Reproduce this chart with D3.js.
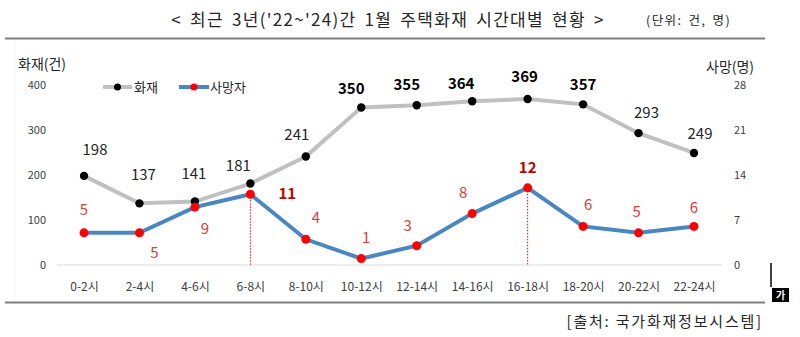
<!DOCTYPE html>
<html><head><meta charset="utf-8">
<script src="https://cdn.jsdelivr.net/npm/d3@7/dist/d3.min.js"></script>
<style>body{margin:0;background:#fff}svg{display:block}text{font-family:"Noto Sans CJK KR","Malgun Gothic",sans-serif}</style>
</head><body>
<svg id="c" width="800" height="337"></svg>
<script>
const categories = ["0-2시","2-4시","4-6시","6-8시","8-10시","10-12시","12-14시","14-16시","16-18시","18-20시","20-22시","22-24시"];
const fires = [198,137,141,181,241,350,355,364,369,357,293,249];
const deaths = [5,5,9,11,4,1,3,8,12,6,5,6];
const leftTicks = [0,100,200,300,400];
const rightTicks = [0,7,14,21,28];
const boldFires = [false,false,false,false,false,true,true,true,true,true,false,false];
const boldDeaths = [false,false,false,true,false,false,false,false,true,false,false,false];
const highlightDeaths = ["6-8시","16-18시"];
// label offsets (dx, dy relative to point, center)
const fireLabelOff = [[11,-26],[4,-29],[-1,-28],[-12,-18],[-9,-22],[-10,-19],[-10,-21],[-11,-18],[-3,-22],[0,-20],[8,-21],[6,-19]];
const deathLabelOff = [[0,-23],[15,20],[10,21],[37,-1],[10,-22],[5,-21],[-9,-20],[-9,-21],[0,-20],[5,-22],[-2,-21],[0,-19]];

const svg = d3.select("#c");
const x = d3.scalePoint().domain(categories).range([84,694]);
const yL = d3.scaleLinear().domain([0,400]).range([265,85]);
const yR = d3.scaleLinear().domain([0,28]).range([265,85]);

// title
svg.append("text").attr("x",388).attr("y",26).attr("text-anchor","middle")
  .attr("font-size",17).attr("letter-spacing",1.3).attr("word-spacing",3).attr("fill","#262626").text("< 최근 3년('22~'24)간 1월 주택화재 시간대별 현황 >");
svg.append("text").attr("x",646).attr("y",25).attr("font-size",12.5).attr("letter-spacing",1.4).attr("word-spacing",2).attr("fill","#262626").text("(단위: 건, 명)");
svg.append("line").attr("x1",5).attr("x2",765).attr("y1",38.5).attr("y2",38.5).attr("stroke","#7f7f7f").attr("stroke-width",2);
svg.append("line").attr("x1",5).attr("x2",765).attr("y1",302.5).attr("y2",302.5).attr("stroke","#7f7f7f").attr("stroke-width",2);
svg.append("line").attr("x1",15).attr("x2",15).attr("y1",40).attr("y2",301).attr("stroke","#f4f4f4").attr("stroke-width",1);

// axis titles
svg.append("text").attr("x",18).attr("y",69).attr("font-size",14).attr("fill","#262626").text("화재(건)");
svg.append("text").attr("x",706).attr("y",72).attr("font-size",14).attr("fill","#262626").text("사망(명)");

// baseline
svg.append("line").attr("x1",57).attr("x2",722).attr("y1",yL(0)).attr("y2",yL(0)).attr("stroke","#d9d9d9").attr("stroke-width",1);

// axes
const gl = svg.append("g").attr("transform","translate(46,0)")
  .call(d3.axisLeft(yL).tickValues(leftTicks).tickSize(0).tickPadding(0));
gl.select(".domain").remove();
gl.selectAll("text").attr("font-size",11).attr("fill","#404040").style("font-family","'Noto Sans CJK KR',sans-serif");
const gr = svg.append("g").attr("transform","translate(734,0)")
  .call(d3.axisRight(yR).tickValues(rightTicks).tickSize(0).tickPadding(0));
gr.select(".domain").remove();
gr.selectAll("text").attr("font-size",11).attr("fill","#404040").style("font-family","'Noto Sans CJK KR',sans-serif");
const gx = svg.append("g").attr("transform","translate(0,281)")
  .call(d3.axisBottom(x).tickSize(0).tickPadding(0));
gx.select(".domain").remove();
gx.selectAll("text").attr("font-size",12).attr("fill","#404040").attr("dy","0.8em").style("font-family","'Noto Sans CJK KR',sans-serif");

// dotted vertical lines
categories.forEach((c,i)=>{
  if(highlightDeaths.includes(c)){
    svg.append("line").attr("x1",x(c)).attr("x2",x(c)).attr("y1",yR(deaths[i])).attr("y2",yL(0))
      .attr("stroke","#ff0000").attr("stroke-width",1).attr("stroke-dasharray","1.5,1.5");
  }
});

// fire line
svg.append("path").datum(fires).attr("fill","none").attr("stroke","#c0c0c0").attr("stroke-width",4)
  .attr("d", d3.line().x((d,i)=>x(categories[i])).y(d=>yL(d)));
svg.selectAll(".fp").data(fires).enter().append("circle").attr("cx",(d,i)=>x(categories[i])).attr("cy",d=>yL(d)).attr("r",4.2).attr("fill","#000");

// death line
svg.append("path").datum(deaths).attr("fill","none").attr("stroke","#4a86c0").attr("stroke-width",4)
  .attr("d", d3.line().x((d,i)=>x(categories[i])).y(d=>yR(d)));
svg.selectAll(".dp").data(deaths).enter().append("circle").attr("cx",(d,i)=>x(categories[i])).attr("cy",d=>yR(d)).attr("r",4.5).attr("fill","#ff0000");

// labels
svg.selectAll(".fl").data(fires).enter().append("text")
  .attr("x",(d,i)=>x(categories[i])+fireLabelOff[i][0])
  .attr("y",(d,i)=>yL(d)+fireLabelOff[i][1]+5.5)
  .attr("text-anchor","middle").attr("font-size",15)
  .attr("font-weight",(d,i)=>boldFires[i]?"bold":"normal")
  .attr("fill",(d,i)=>boldFires[i]?"#000":"#262626").text(d=>d);
svg.selectAll(".dl").data(deaths).enter().append("text")
  .attr("x",(d,i)=>x(categories[i])+deathLabelOff[i][0])
  .attr("y",(d,i)=>yR(d)+deathLabelOff[i][1]+5.5)
  .attr("text-anchor","middle").attr("font-size",15)
  .attr("font-weight",(d,i)=>boldDeaths[i]?"bold":"normal")
  .attr("fill",(d,i)=>boldDeaths[i]?"#c00000":"#e03a3a").text(d=>d);

// legend
const lg = svg.append("g");
lg.append("line").attr("x1",103).attr("x2",132).attr("y1",87).attr("y2",87).attr("stroke","#c0c0c0").attr("stroke-width",4);
lg.append("circle").attr("cx",117.5).attr("cy",87).attr("r",3.5).attr("fill","#000");
lg.append("text").attr("x",134).attr("y",92).attr("font-size",13).attr("fill","#262626").text("화재");
lg.append("line").attr("x1",179).attr("x2",209).attr("y1",87).attr("y2",87).attr("stroke","#4a86c0").attr("stroke-width",4);
lg.append("circle").attr("cx",194).attr("cy",87).attr("r",3.5).attr("fill","#ff0000");
lg.append("text").attr("x",210).attr("y",92).attr("font-size",13).attr("fill","#262626").text("사망자");

// editor artifacts
svg.append("line").attr("x1",771).attr("x2",771).attr("y1",263).attr("y2",287).attr("stroke","#000").attr("stroke-width",1.5);
svg.append("rect").attr("x",772).attr("y",288).attr("width",17).attr("height",14).attr("fill","#000");
svg.append("text").attr("x",780.5).attr("y",299).attr("text-anchor","middle").attr("font-size",10).attr("font-weight","bold").attr("fill","#fff").text("가");

// source
svg.append("text").attr("x",763).attr("y",327).attr("text-anchor","end").attr("font-size",15).attr("letter-spacing",1.8).attr("fill","#262626").text("[출처: 국가화재정보시스템]");
</script>
</body></html>
